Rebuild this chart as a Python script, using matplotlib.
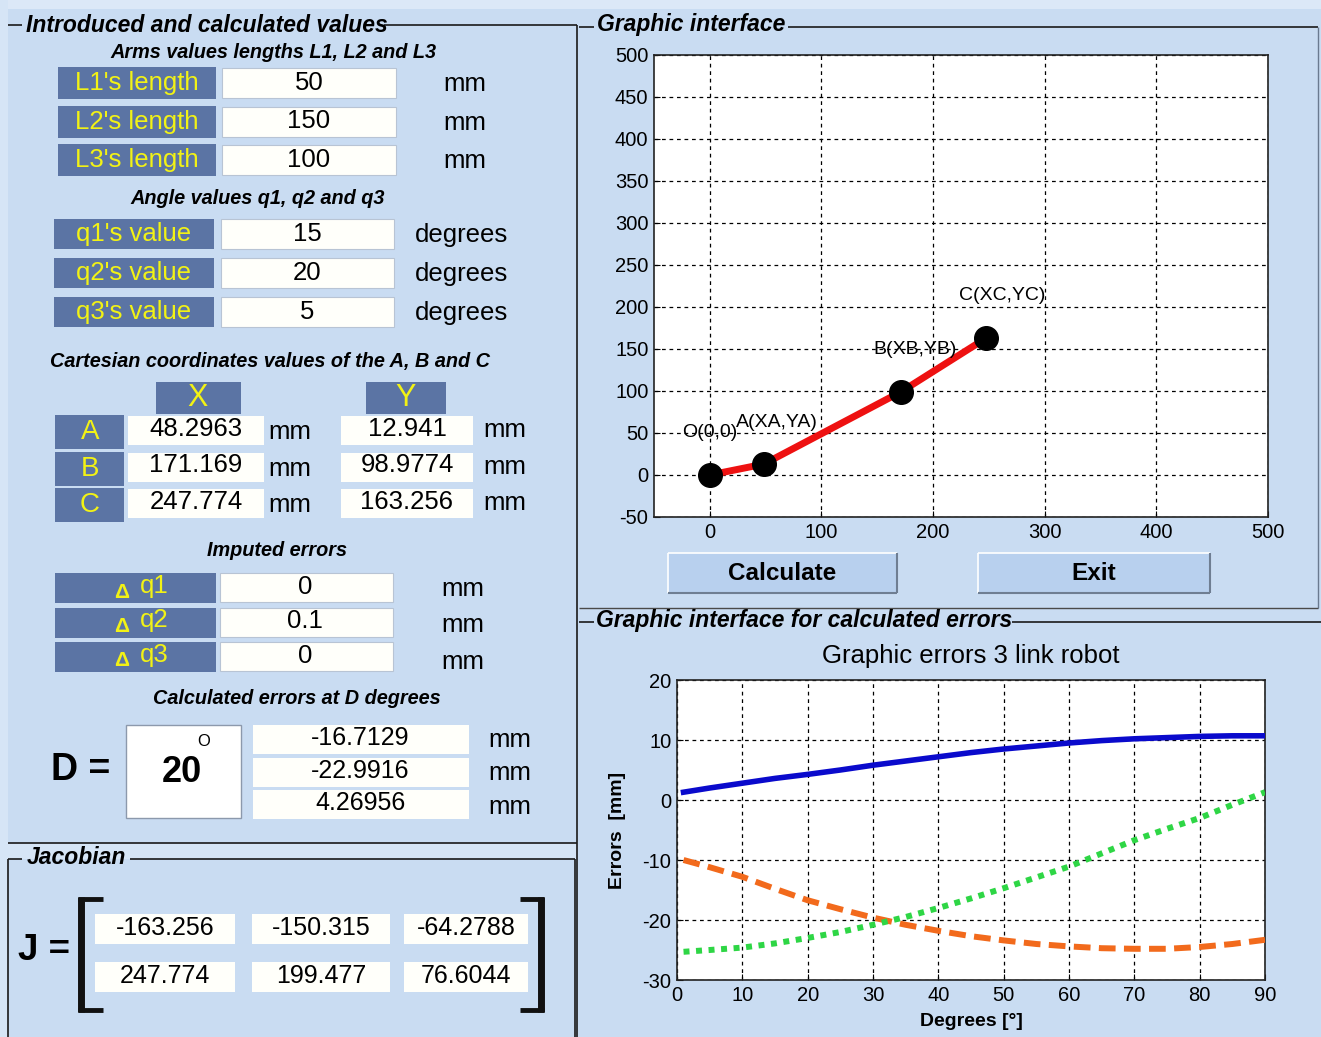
import matplotlib
matplotlib.use("Agg")
import matplotlib.pyplot as plt
from matplotlib.patches import Rectangle
import numpy as np

plt.rcParams["axes.unicode_minus"] = False

# ---------------- data ----------------
length_labels = ["L1's length", "L2's length", "L3's length"]
length_values = ["50", "150", "100"]
angle_labels = ["q1's value", "q2's value", "q3's value"]
angle_values = ["15", "20", "5"]
point_names = ["A", "B", "C"]
coord_x_text = ["48.2963", "171.169", "247.774"]
coord_y_text = ["12.941", "98.9774", "163.256"]
delta_labels = ["q1", "q2", "q3"]
delta_values = ["0", "0.1", "0"]
D_value = "20"
D_errors = ["-16.7129", "-22.9916", "4.26956"]
jacobian = [["-163.256", "-150.315", "-64.2788"],
            ["247.774", "199.477", "76.6044"]]

arm_x = [0, 48.2963, 171.169, 247.774]
arm_y = [0, 12.941, 98.9774, 163.256]
arm_labels = ["O(0,0)", "A(XA,YA)", "B(XB,YB)", "C(XC,YC)"]

deg = [1, 5, 10, 15, 20, 25, 30, 35, 40, 45, 50, 55, 60, 65, 70, 75, 80, 85, 90]
err_blue = [1.3, 2.0, 2.8, 3.6, 4.27, 5.0, 5.8, 6.5, 7.2, 7.9, 8.5, 9.0, 9.5, 9.9, 10.2, 10.4, 10.6, 10.7, 10.7]
err_orange = [-10.0, -11.2, -12.8, -14.8, -16.71, -18.2, -19.6, -20.8, -21.8, -22.7, -23.4, -24.0, -24.4, -24.7, -24.8, -24.8, -24.5, -24.0, -23.3]
err_green = [-25.3, -25.0, -24.6, -23.9, -22.99, -22.0, -20.8, -19.5, -18.0, -16.4, -14.7, -12.9, -11.1, -8.9, -6.7, -4.8, -3.0, -0.8, 1.3]

# ---------------- style ----------------
W, H = 1321, 1037
BG = "#C9DCF2"
LIGHT = "#DCE8F7"
LBL = "#5B74A4"
YEL = "#F2F215"
BOXW = "#FFFFFA"
SANS = ["Liberation Sans", "DejaVu Sans"]
FS = 18.5       # main GUI text size
TITLE = 16.5    # group box titles
SUB = 14.3      # sub titles

fig = plt.figure(figsize=(W / 100, H / 100), dpi=100, facecolor=BG)
bg = fig.add_axes([0, 0, 1, 1])
bg.set_xlim(0, W)
bg.set_ylim(H, 0)
bg.axis("off")
bg.set_facecolor(BG)


def rect(x0, y0, x1, y1, fc, ec="none", lw=0, z=1):
    bg.add_patch(Rectangle((x0, y0), x1 - x0, y1 - y0, facecolor=fc,
                           edgecolor=ec, linewidth=lw, zorder=z))


def line(x0, y0, x1, y1, c="#1A1A1A", lw=1.2, z=3):
    bg.plot([x0, x1], [y0, y1], color=c, lw=lw, zorder=z, solid_capstyle="butt")


def txt(x, y, s, size, color="black", weight="normal", style="normal",
        ha="center", va="center", family=SANS, z=5, **kw):
    bg.text(x, y, s, fontsize=size, color=color, fontweight=weight,
            fontstyle=style, ha=ha, va=va, family=family, zorder=z, **kw)


# light strips
rect(0, 0, W, 9, LIGHT)
rect(0, 0, 8, H, "#D6E5F6")
rect(8, 843, 577, 859, "#D6E5F6")

# ---------------- frames ----------------
line(8, 25, 22, 25)
line(384, 25, 577, 25)
line(577, 25, 577, H)
line(8, 843, 577, 843)
line(8, 859, 22, 859)
line(130, 859, 575, 859)
line(8, 859, 8, H)
line(575, 859, 575, H)

line(579, 27, 594, 27)
line(788, 27, 1318, 27)
line(1318, 27, 1318, 608, c="#6A7A90", lw=1.0)
line(579, 608, 1318, 608, c="#4A4A4A", lw=1.0)
line(579, 622, 594, 622)
line(1012, 622, W, 622)

txt(26, 25, "Introduced and calculated values", TITLE, weight="bold", style="italic", ha="left")
txt(597, 25, "Graphic interface", TITLE, weight="bold", style="italic", ha="left")
txt(596, 620, "Graphic interface for calculated errors", TITLE, weight="bold", style="italic", ha="left")
txt(27, 857, "Jacobian", TITLE, weight="bold", style="italic", ha="left")

# ---------------- lengths ----------------
txt(273, 53, "Arms values lengths L1, L2 and L3", SUB, weight="bold", style="italic")
for i, (lab, val) in enumerate(zip(length_labels, length_values)):
    yc = 83 + i * 38.5
    rect(58, yc - 16, 216, yc + 16, LBL)
    rect(222, yc - 15, 396, yc + 15, BOXW, ec="#B8C4D4", lw=0.8)
    txt(137, yc, lab, FS, color=YEL)
    txt(309, yc, val, FS)
    txt(465, yc + 1, "mm", FS)

# ---------------- angles ----------------
txt(258, 198, "Angle values q1, q2 and q3", SUB, weight="bold", style="italic")
for i, (lab, val) in enumerate(zip(angle_labels, angle_values)):
    yc = 234 + i * 39
    rect(54, yc - 15, 214, yc + 15, LBL)
    rect(221, yc - 15, 394, yc + 15, BOXW, ec="#B8C4D4", lw=0.8)
    txt(134, yc, lab, FS, color=YEL)
    txt(307, yc, val, FS)
    txt(462, yc + 1, "degrees", FS)

# ---------------- cartesian coordinates ----------------
txt(270, 361, "Cartesian coordinates values of the A, B and C", SUB, weight="bold", style="italic")
rect(156, 382, 241, 414, LBL)
rect(366, 382, 446, 414, LBL)
txt(198, 398, "X", 22, color=YEL)
txt(406, 398, "Y", 22, color=YEL)
for i, (nm, xv, yv) in enumerate(zip(point_names, coord_x_text, coord_y_text)):
    y0 = 415 + i * 36.5
    rect(55, y0, 124, y0 + 34, LBL)
    rect(128, y0 + 1, 264, y0 + 30, BOXW)
    rect(341, y0 + 1, 473, y0 + 30, BOXW)
    txt(90, y0 + 17, nm, 20, color=YEL)
    txt(196, y0 + 14, xv, FS)
    txt(407, y0 + 14, yv, FS)
    txt(290, y0 + 17, "mm", FS)
    txt(505, y0 + 15, "mm", FS)

# ---------------- imputed errors ----------------
txt(277, 550, "Imputed errors", SUB, weight="bold", style="italic")
for i, (lab, val) in enumerate(zip(delta_labels, delta_values)):
    y0 = 573 + i * 34.5
    rect(55, y0, 216, y0 + 30, LBL)
    rect(220, y0, 393, y0 + 29, BOXW, ec="#B8C4D4", lw=0.8)
    txt(122, y0 + 19, "\u0394", 15, color=YEL, weight="bold")
    txt(140, y0 + 13, lab, FS, color=YEL, ha="left")
    txt(305, y0 + 14, val, FS)
    txt(463, y0 + 14 + i * 2 + 2, "mm", FS)

# ---------------- calculated errors ----------------
txt(297, 699, "Calculated errors at D degrees", SUB, weight="bold", style="italic")
rect(126, 725, 241, 818, "white", ec="#8C99AC", lw=1.0)
txt(81, 770, "D =", 27, weight="bold")
txt(182, 772, D_value, 26, weight="bold")
txt(204, 741, "O", 12)
for i, e in enumerate(D_errors):
    y0 = 725 + i * 32.5
    rect(253, y0, 469, y0 + 29, BOXW)
    txt(360, y0 + 13, e, 18)
    txt(510, y0 + 15 + i, "mm", FS)

# ---------------- jacobian ----------------
txt(44, 950, "J =", 26.5, weight="bold")
bl = 3.5
line(81, 897, 81, 1012, c="#111111", lw=5)
line(78, 899, 103, 899, c="#111111", lw=bl)
line(78, 1010, 103, 1010, c="#111111", lw=bl)
line(541, 897, 541, 1012, c="#111111", lw=5)
line(520, 899, 544, 899, c="#111111", lw=bl)
line(520, 1010, 544, 1010, c="#111111", lw=bl)
col_x = [(95, 235), (252, 390), (404, 528)]
for r, row in enumerate(jacobian):
    y0 = 914 + r * 48
    for c, val in enumerate(row):
        x0, x1 = col_x[c]
        rect(x0, y0, x1, y0 + 30, BOXW)
        txt((x0 + x1) / 2, y0 + 14, val, 18)

# ---------------- buttons ----------------
for (x0, x1, lab) in [(668, 897, "Calculate"), (978, 1210, "Exit")]:
    rect(x0, 553, x1, 593, "#B8D0EE", ec="none")
    line(x0, 553, x1, 553, c="white", lw=1.2)
    line(x0, 553, x0, 593, c="white", lw=1.2)
    line(x0, 593, x1, 593, c="#6F7E92", lw=1.5)
    line(x1, 553, x1, 593, c="#6F7E92", lw=1.5)
    txt((x0 + x1) / 2, 574, lab, 17.5, weight="bold")


def px_axes(x0, y0, x1, y1):
    return fig.add_axes([x0 / W, 1 - y1 / H, (x1 - x0) / W, (y1 - y0) / H])


def style_axes(ax, fs):
    ax.set_facecolor("white")
    for s in ax.spines.values():
        s.set_color("#222222")
        s.set_linewidth(1.2)
    ax.grid(True, color="black", linestyle=(0, (3, 3)), linewidth=0.9)
    ax.tick_params(direction="in", length=4, width=0.8, labelsize=fs, pad=4)
    for lab in ax.get_xticklabels() + ax.get_yticklabels():
        lab.set_family(SANS)


# ---------------- robot arm plot ----------------
ax1 = px_axes(654, 55, 1268, 517)
ax1.set_xlim(-50, 500)
ax1.set_ylim(-50, 500)
ax1.set_xticks(np.arange(0, 501, 100))
ax1.set_yticks(np.arange(-50, 501, 50))
style_axes(ax1, 14.5)
ax1.plot(arm_x, arm_y, color="#EE1111", lw=5, zorder=3)
ax1.plot(arm_x, arm_y, "o", color="black", markersize=17, zorder=4)
for xv, yv, lab in zip(arm_x, arm_y, arm_labels):
    ax1.text(xv - 25, yv + 50, lab, fontsize=14, family=SANS, ha="left", va="center",
             zorder=5)

# ---------------- errors plot ----------------
ax2 = px_axes(677, 680, 1265, 980)
ax2.set_xlim(0, 90)
ax2.set_ylim(-30, 20)
ax2.set_xticks(np.arange(0, 91, 10))
ax2.set_yticks(np.arange(-30, 21, 10))
style_axes(ax2, 14.5)
ax2.plot(deg, err_blue, color="#0A0ACC", lw=4.0, zorder=3)
ax2.plot(deg, err_orange, color="#F26A1C", lw=4.3, linestyle=(0, (2.8, 1.4)), zorder=3)
ax2.plot(deg, err_green, color="#2ED645", lw=4.3, linestyle=(0, (1, 1.1)), zorder=3)
ax2.set_title("Graphic errors 3 link robot", fontsize=18.5, family=SANS, pad=12)
ax2.set_xlabel("Degrees [\u00b0]", fontsize=14, family=SANS, fontweight="bold", labelpad=6)
ax2.set_ylabel("Errors  [mm]", fontsize=14, family=SANS, fontweight="bold", labelpad=12)

fig.savefig("out.png", dpi=100, facecolor=BG)
